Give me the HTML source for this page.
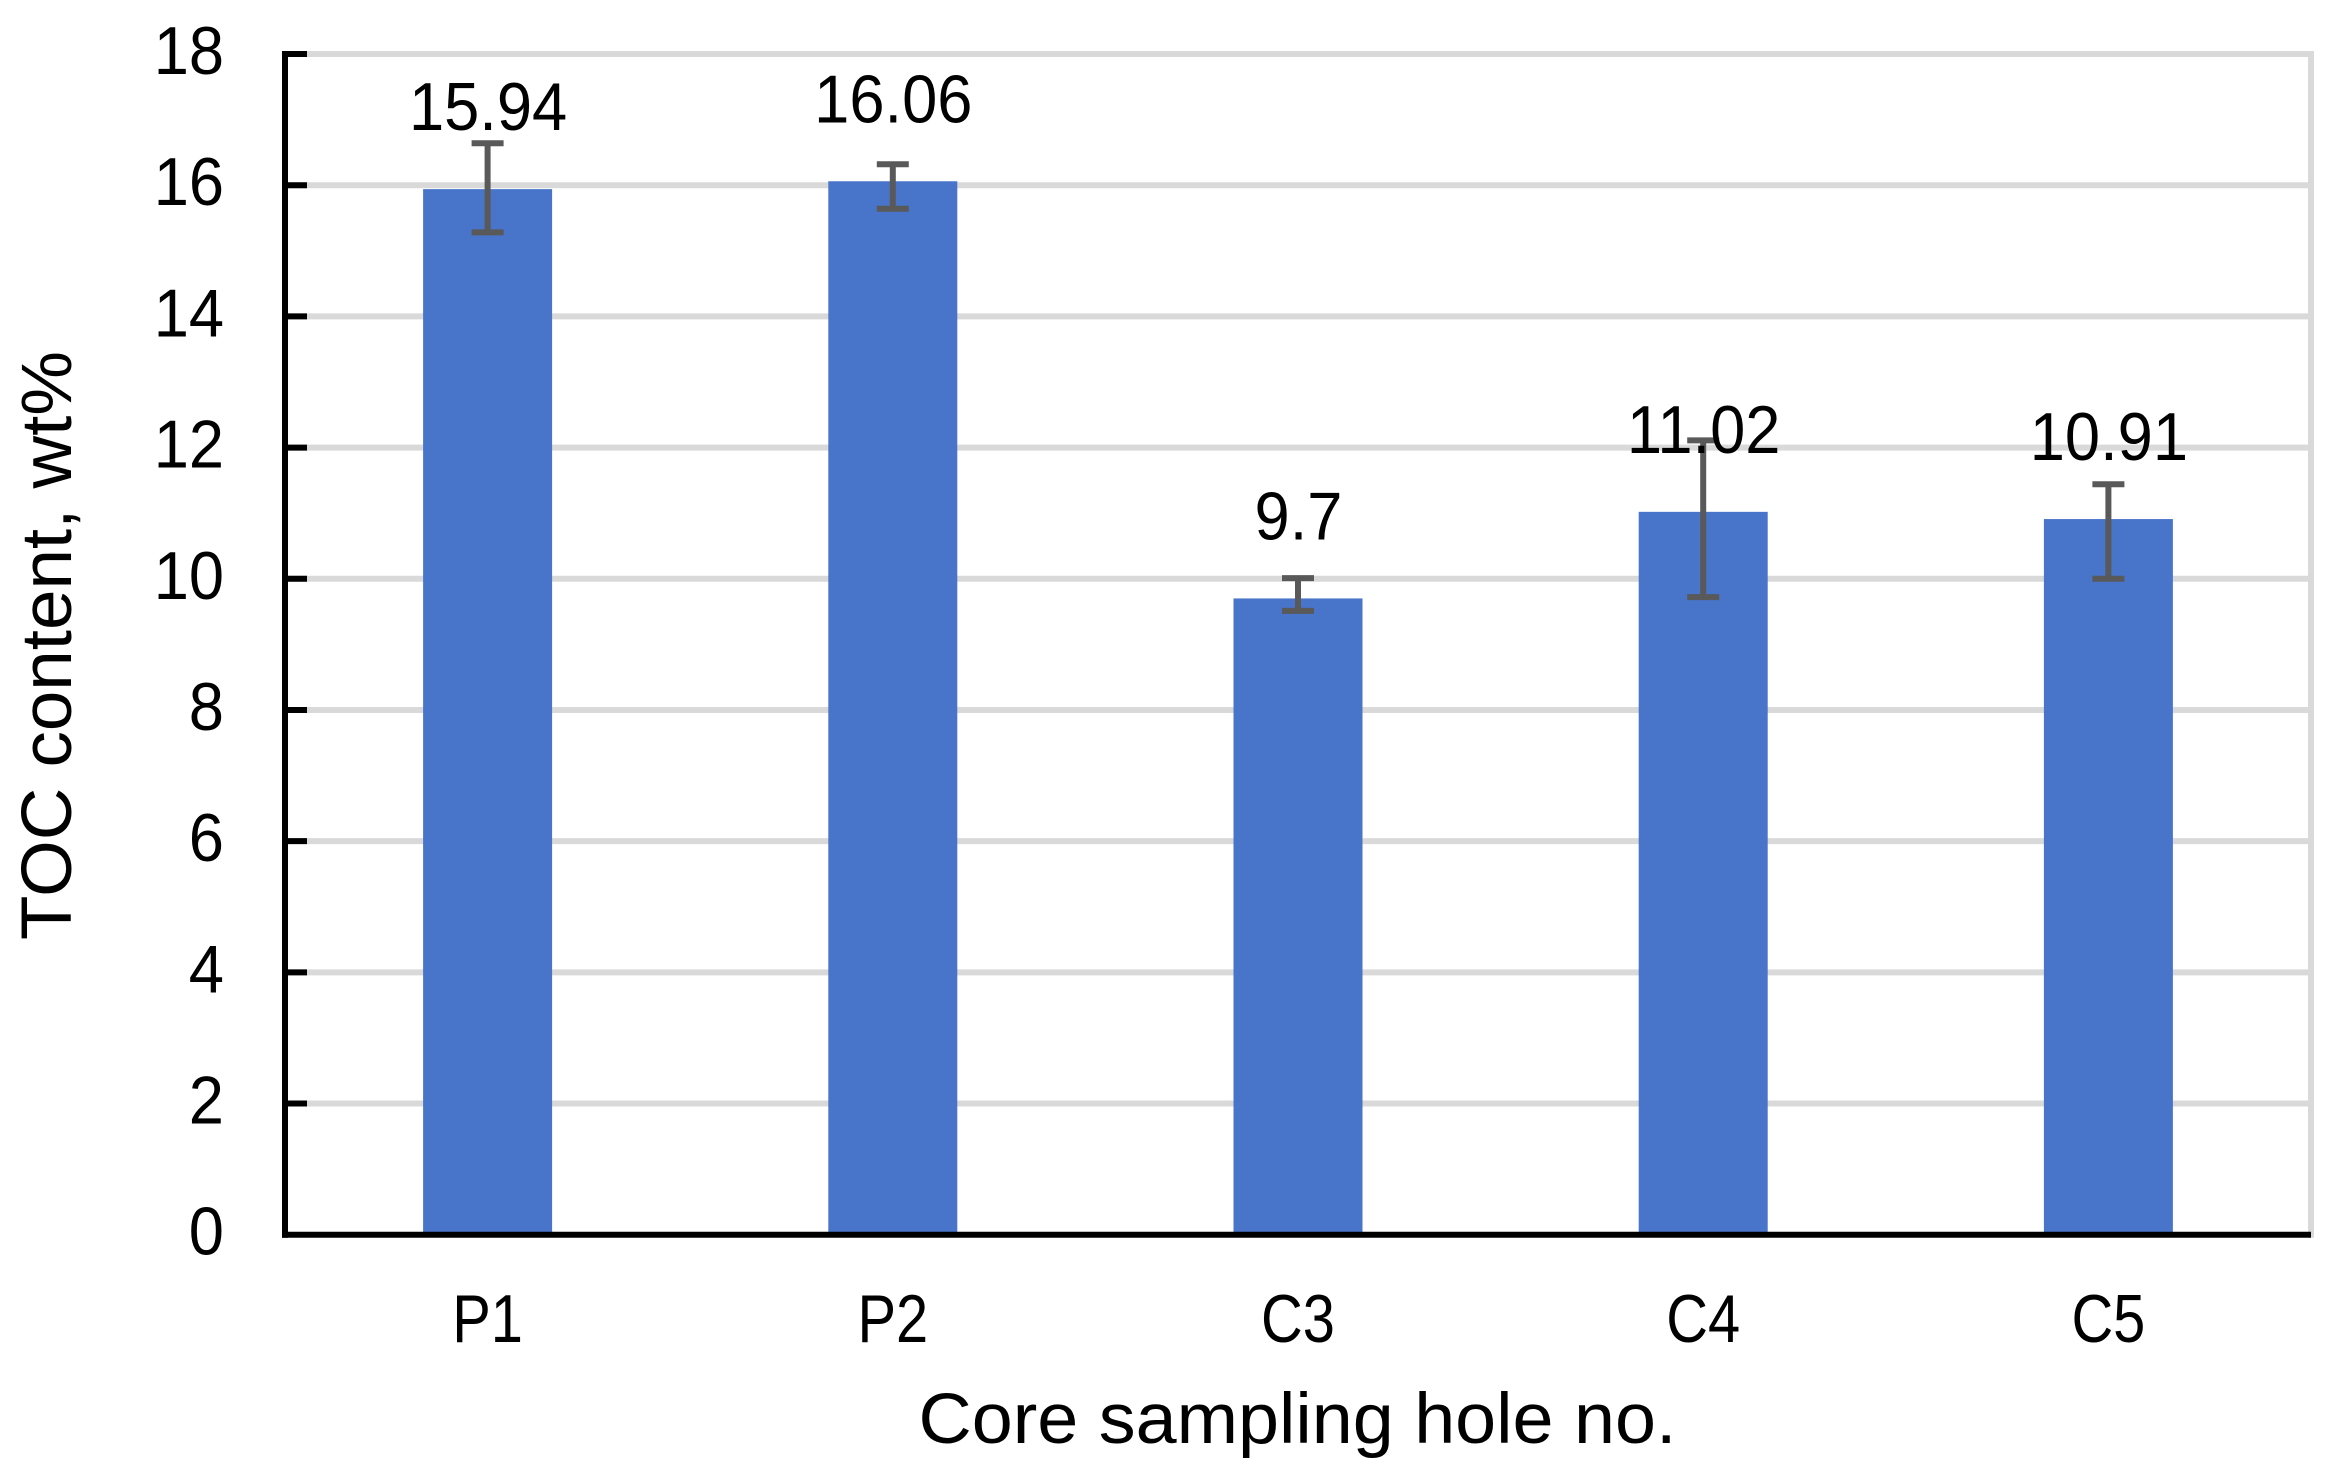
<!DOCTYPE html>
<html>
<head>
<meta charset="utf-8">
<title>TOC content by core sampling hole</title>
<style>
html,body{margin:0;padding:0;background:#fff;}
svg{display:block;}
text{font-family:"Liberation Sans",sans-serif;fill:#000;}
</style>
</head>
<body>
<svg id="chart" width="2331" height="1483" viewBox="0 0 2331 1483" xmlns="http://www.w3.org/2000/svg">
  <rect x="0" y="0" width="2331" height="1483" fill="#ffffff"/>
  <g id="grid"></g>
  <g id="bars"></g>
  <g id="axes"></g>
  <g id="errors"></g>
  <g id="labels"></g>
  <text x="1297.5" y="1443" font-size="71" text-anchor="middle" textLength="758" lengthAdjust="spacingAndGlyphs">Core sampling hole no.</text>
  <text transform="translate(71 645.5) rotate(-90)" x="0" y="0" font-size="71" text-anchor="middle" textLength="589" lengthAdjust="spacingAndGlyphs">TOC content, wt%</text>
</svg>
<script>
const categories = ["P1", "P2", "C3", "C4", "C5"];
const values = [15.94, 16.06, 9.7, 11.02, 10.91];
const errPlus = [0.70, 0.26, 0.31, 1.09, 0.53];
const errMinus = [0.66, 0.42, 0.19, 1.30, 0.91];
const yTicks = [0, 2, 4, 6, 8, 10, 12, 14, 16, 18];

const NS = "http://www.w3.org/2000/svg";
const plot = {left: 285, right: 2311, top: 54, bottom: 1234.7};
const yMax = 18;
const barWidth = 129;
const capWidth = 32;

function yScale(v) {
  return plot.bottom - (v / yMax) * (plot.bottom - plot.top);
}
function xScale(i) {
  return plot.left + (i + 0.5) * (plot.right - plot.left) / categories.length;
}
function make(parent, tag, attrs) {
  const el = document.createElementNS(NS, tag);
  for (const k in attrs) el.setAttribute(k, attrs[k]);
  parent.appendChild(el);
  return el;
}
function fit(el, factor) {
  const natural = el.getComputedTextLength();
  el.setAttribute("textLength", (natural * factor).toFixed(1));
  el.setAttribute("lengthAdjust", "spacingAndGlyphs");
}

const gridG = document.getElementById("grid");
const barsG = document.getElementById("bars");
const axesG = document.getElementById("axes");
const errG = document.getElementById("errors");
const labelG = document.getElementById("labels");

yTicks.forEach(function (t) {
  if (t === 0) return;
  const line = make(gridG, "line", {x1: plot.left, x2: plot.right + 3, y1: yScale(t), y2: yScale(t), stroke: "#d9d9d9", "stroke-width": 6});
  
  
});
const border = make(gridG, "line", {x1: plot.right, x2: plot.right, y1: plot.top - 3, y2: plot.bottom + 3, stroke: "#d9d9d9", "stroke-width": 6});



values.forEach(function (v, i) {
  const bar = make(barsG, "rect", {x: xScale(i) - barWidth / 2, y: yScale(v), width: barWidth, height: plot.bottom - yScale(v), fill: "#4874CA"});
  
  
});

const yAxis = make(axesG, "line", {x1: plot.left, x2: plot.left, y1: plot.top - 3, y2: plot.bottom + 3, stroke: "#000", "stroke-width": 6});


const xAxis = make(axesG, "line", {x1: plot.left - 3, x2: plot.right, y1: plot.bottom, y2: plot.bottom, stroke: "#000", "stroke-width": 6});



yTicks.forEach(function (t) {
  if (t !== 0) {
    const mark = make(axesG, "line", {x1: plot.left - 2, x2: plot.left + 22, y1: yScale(t), y2: yScale(t), stroke: "#000", "stroke-width": 6});
    
    
  }
  const lab = make(labelG, "text", {x: 224, y: yScale(t) + 20, "font-size": 68, "text-anchor": "end"});
  lab.textContent = String(t);
  
  
  fit(lab, 0.93);
});

values.forEach(function (v, i) {
  const cx = xScale(i);
  const yHi = yScale(v + errPlus[i]);
  const yLo = yScale(v - errMinus[i]);
  const attrs = {stroke: "#595959", "stroke-width": 6};
  const stem = make(errG, "line", Object.assign({x1: cx, x2: cx, y1: yHi, y2: yLo}, attrs));
  
  
  const capTop = make(errG, "line", Object.assign({x1: cx - capWidth / 2, x2: cx + capWidth / 2, y1: yHi, y2: yHi}, attrs));
  
  
  const capLow = make(errG, "line", Object.assign({x1: cx - capWidth / 2, x2: cx + capWidth / 2, y1: yLo, y2: yLo}, attrs));
  
  

  const valueLabel = make(labelG, "text", {x: cx + 0.5, y: yScale(v) - 59, "font-size": 68, "text-anchor": "middle"});
  valueLabel.textContent = String(v);
  
  
  fit(valueLabel, 0.93);
});

categories.forEach(function (c, i) {
  const lab = make(labelG, "text", {x: xScale(i), y: 1342, "font-size": 68, "text-anchor": "middle"});
  lab.textContent = c;
  
  
  fit(lab, 0.85);
});
</script>
</body>
</html>
